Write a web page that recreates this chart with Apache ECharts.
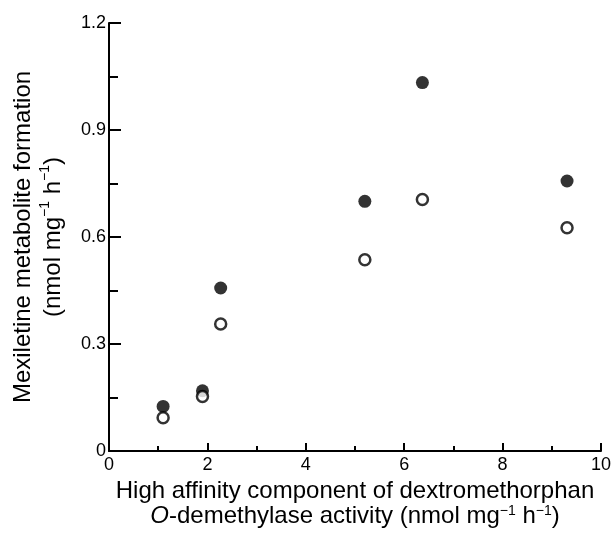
<!DOCTYPE html>
<html>
<head>
<meta charset="utf-8">
<script src="https://cdn.jsdelivr.net/npm/echarts@6/dist/echarts.min.js"></script>
<style>html,body{margin:0;padding:0;background:#fff}#c{width:614px;height:534px}</style>
</head>
<body>
<div id="c"></div>
<script>
// High affinity component of dextromethorphan O-demethylase activity (x)
var activity = [1.1, 1.9, 2.27, 5.2, 6.37, 9.31];
// Filled circles
var filledValues = [0.125, 0.169, 0.457, 0.70, 1.033, 0.757];
// Open circles
var openValues = [0.093, 0.153, 0.356, 0.536, 0.705, 0.626];
var xTicks = [0, 2, 4, 6, 8, 10];
var yTicks = [0, 0.3, 0.6, 0.9, 1.2];

function pairs(xs, ys) { return xs.map(function (x, i) { return [x, ys[i]]; }); }

var font = '"Liberation Sans", Arial, Helvetica, sans-serif';
var chart = echarts.init(document.getElementById('c'), null, {renderer: 'canvas'});
chart.setOption({
  animation: false,
  backgroundColor: '#fff',
  grid: {left: 106, right: 11, top: 23, bottom: 77, containLabel: false},
  xAxis: {
    type: 'value', min: xTicks[0], max: xTicks[xTicks.length - 1], interval: 2,
    axisLine: {show: true, lineStyle: {color: '#000', width: 2}},
    axisTick: {show: true, inside: true, length: 8, lineStyle: {color: '#000', width: 2}},
    minorTick: {show: true, splitNumber: 2, length: 5, lineStyle: {color: '#000', width: 2}},
    splitLine: {show: false},
    axisLabel: {color: '#000', fontSize: 18, fontFamily: font, margin: 5,
      formatter: function (v) { return xTicks.indexOf(v) >= 0 ? String(v) : ''; }},
    name: 'High affinity component of dextromethorphan\n{i|O}-demethylase activity (nmol mg{s|−1} h{s|−1})',
    nameLocation: 'middle', nameGap: 28,
    nameTextStyle: {color: '#000', fontSize: 24, fontFamily: font, lineHeight: 25,
      rich: {
        i: {fontSize: 24, fontStyle: 'italic', fontFamily: font, color: '#000', lineHeight: 25},
        s: {fontSize: 14, fontFamily: font, color: '#000', verticalAlign: 'top', lineHeight: 25, padding: [0, 0, 9, 0]}
      }}
  },
  yAxis: {
    type: 'value', min: yTicks[0], max: yTicks[yTicks.length - 1], interval: 0.3,
    axisLine: {show: true, lineStyle: {color: '#000', width: 2}},
    axisTick: {show: true, inside: true, length: 12, lineStyle: {color: '#000', width: 2}},
    minorTick: {show: true, splitNumber: 2, length: 9, lineStyle: {color: '#000', width: 2}},
    splitLine: {show: false},
    axisLabel: {color: '#000', fontSize: 18, fontFamily: font, margin: 3,
      formatter: function (v) { return v === 0 ? '0' : v.toFixed(1); }},
    name: 'Mexiletine metabolite formation\n(nmol mg{s|−1} h{s|−1})',
    nameLocation: 'middle', nameGap: 41,
    nameTextStyle: {color: '#000', fontSize: 24, fontFamily: font, lineHeight: 30,
      rich: {
        s: {fontSize: 14, fontFamily: font, color: '#000', verticalAlign: 'top', lineHeight: 30, padding: [0, 0, 9, 0]}
      }}
  },
  series: [
    {
      name: 'filled', type: 'scatter', data: pairs(activity, filledValues),
      symbol: 'circle', symbolSize: 13,
      itemStyle: {color: '#000', borderWidth: 0}
    },
    {
      name: 'open', type: 'scatter', data: pairs(activity, openValues),
      symbol: 'circle', symbolSize: 11,
      itemStyle: {color: '#fff', borderColor: '#000', borderWidth: 2.5}
    }
  ]
});
</script>
</body>
</html>
